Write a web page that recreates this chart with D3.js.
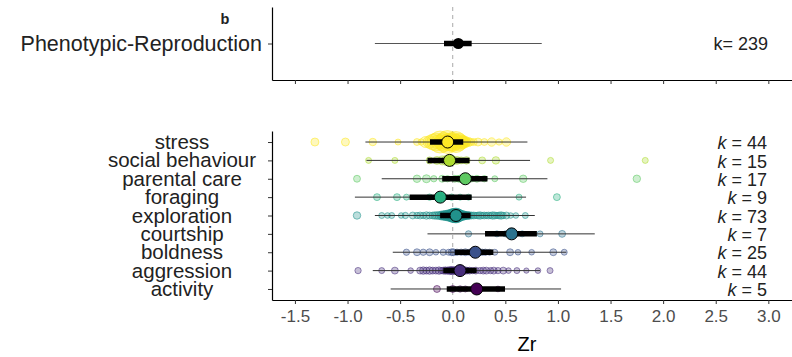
<!DOCTYPE html>
<html>
<head>
<meta charset="utf-8">
<script src="https://cdn.jsdelivr.net/npm/d3@7"></script>
<style>
  body { margin: 0; background: #fff; }
  svg { display: block; }
  text { font-family: "Liberation Sans", Arial, sans-serif; }
</style>
</head>
<body>
<svg id="chart" width="792" height="357"></svg>
<script>
// ---- overall model (top panel) ----
const overallLabel = ["Phenotypic-Reproduction"];
const overallK = 239;
const overallMean = 0.053;
const overallCI = [-0.083, 0.18];
const overallPI = [-0.74, 0.846];

// ---- moderator levels (bottom panel), listed bottom to top ----
const moderators = ["activity", "aggression", "boldness", "courtship", "exploration",
                    "foraging", "parental care", "social behaviour", "stress"];
const modK      = [5, 44, 25, 7, 73, 9, 17, 15, 44];
const modMean   = [0.228, 0.069, 0.215, 0.56, 0.031, -0.118, 0.12, -0.03, -0.048];
const modCILow  = [-0.057, -0.09, 0.02, 0.307, -0.12, -0.41, -0.10, -0.24, -0.216];
const modCIHigh = [0.497, 0.228, 0.386, 0.80, 0.17, 0.18, 0.33, 0.16, 0.10];
const modPILow  = [-0.59, -0.76, -0.57, -0.24, -0.74, -0.93, -0.675, -0.82, -0.83];
const modPIHigh = [1.03, 0.83, 1.08, 1.35, 0.78, 0.697, 0.90, 0.735, 0.71];

// individual effect sizes per level: [Zr, precision]
const esActivity = [[-0.15,12],[0.00,12],[0.07,10],[0.12,9],[0.43,8]];
const esAggression = [[-0.90,10],[-0.675,9],[-0.55,12],[-0.40,8],[-0.31,12],[-0.28,14],[-0.25,12],[-0.22,14],[-0.19,12],[-0.16,12],
  [-0.13,14],[-0.11,10],[-0.09,12],[-0.07,14],[-0.05,12],[-0.03,16],[-0.02,12],[-0.01,14],[0.00,16],[0.01,12],
  [0.02,14],[0.03,12],[0.04,16],[0.05,14],[0.06,12],[0.08,14],[0.10,12],[0.12,14],[0.14,10],[0.16,12],
  [0.19,10],[0.22,12],[0.26,10],[0.29,12],[0.32,12],[0.36,10],[0.39,12],[0.43,10],[0.48,12],[0.53,8],
  [0.61,9],[0.70,7],[0.81,8],[0.925,9]];
const esBoldness = [[-0.44,10],[-0.34,12],[-0.28,10],[-0.22,12],[-0.16,8],[-0.09,10],[-0.04,9],[-0.01,12],[0.006,12],[0.04,10],
  [0.08,10],[0.12,12],[0.16,10],[0.19,12],[0.22,14],[0.25,12],[0.28,10],[0.31,10],[0.35,9],[0.40,9],
  [0.545,12],[0.62,8],[0.75,8],[0.956,12],[1.06,9]];
const esCourtship = [[0.15,10],[0.42,9],[0.50,9],[0.58,12],[0.66,9],[0.83,9],[1.04,12]];
const esExploration = [[-0.91,14],[-0.675,9],[-0.62,8],[-0.58,9],[-0.49,8],[-0.45,10],[-0.38,12],[-0.34,10],[-0.31,12],[-0.28,10],
  [-0.25,14],[-0.22,12],[-0.19,12],[-0.17,14],[-0.15,14],[-0.13,16],[-0.11,18],[-0.10,20],[-0.09,16],[-0.08,22],
  [-0.07,25],[-0.06,20],[-0.05,28],[-0.04,30],[-0.03,25],[-0.02,35],[-0.02,30],[-0.01,40],[0.00,45],[0.00,36],
  [0.01,50],[0.01,40],[0.02,45],[0.02,36],[0.03,55],[0.03,40],[0.04,48],[0.04,35],[0.05,40],[0.05,30],
  [0.06,36],[0.06,28],[0.07,30],[0.07,24],[0.08,25],[0.09,20],[0.10,22],[0.11,18],[0.12,16],[0.13,14],
  [0.14,16],[0.15,12],[0.16,14],[0.18,12],[0.20,12],[0.22,10],[0.24,12],[0.26,14],[0.28,10],[0.30,12],
  [0.32,10],[0.34,12],[0.36,10],[0.38,14],[0.40,12],[0.42,10],[0.44,12],[0.46,14],[0.48,10],[0.51,12],
  [0.55,8],[0.60,8],[0.69,9]];
const esForaging = [[-0.72,12],[-0.53,12],[-0.44,9],[-0.22,10],[-0.01,10],[0.07,9],[0.15,9],[0.63,9],[0.99,12]];
const esParental = [[-0.91,12],[-0.34,14],[-0.25,16],[-0.18,10],[-0.10,12],[-0.05,10],[0.02,12],[0.05,10],[0.07,14],[0.10,12],
  [0.14,16],[0.18,10],[0.23,12],[0.30,10],[0.40,9],[0.67,14],[1.75,14]];
const esSocial = [[-0.80,9],[-0.55,9],[-0.22,12],[-0.15,16],[-0.10,20],[-0.06,25],[-0.03,30],[0.00,20],[0.04,16],[0.08,12],
  [0.13,14],[0.28,12],[0.41,14],[0.93,9],[1.83,9]];
const esStress = [[-1.31,16],[-1.02,16],[-0.76,14],[-0.52,9],[-0.34,12],[-0.30,10],[-0.26,30],[-0.22,40],[-0.19,60],[-0.16,80],
  [-0.14,50],[-0.12,120],[-0.10,70],[-0.09,40],[-0.08,90],[-0.07,30],[-0.06,60],[-0.05,130],[-0.04,45],[-0.03,80],
  [-0.02,35],[-0.01,70],[0.00,90],[0.01,40],[0.02,60],[0.03,110],[0.04,30],[0.05,55],[0.06,75],[0.07,25],
  [0.08,50],[0.09,35],[0.10,40],[0.11,20],[0.12,30],[0.13,16],[0.15,20],[0.17,14],[0.20,12],[0.24,16],
  [0.30,12],[0.37,18],[0.44,10],[0.51,18]];
const modEffects = [esActivity, esAggression, esBoldness, esCourtship, esExploration,
                    esForaging, esParental, esSocial, esStress];

const xTicks = [-1.5, -1.0, -0.5, 0.0, 0.5, 1.0, 1.5, 2.0, 2.5, 3.0];

// ---- layout ----
const svg = d3.select("#chart");
const x = d3.scaleLinear().domain([-1.718, 3.225]).range([272, 792]);
const yTop = d3.scalePoint().domain(overallLabel).range([80, 7]).padding(0.6);
const yBot = d3.scalePoint().domain(moderators).range([300, 131]).padding(0.6);
const r = d3.scaleSqrt().domain([0, 100]).range([0, 10]);
const colours = d3.quantize(d3.interpolateViridis, moderators.length);
const colour = d3.scaleOrdinal().domain(moderators).range(colours);

const rows = moderators.map((m, i) => ({
  name: m, k: modK[i], mean: modMean[i],
  ci: [modCILow[i], modCIHigh[i]], pi: [modPILow[i], modPIHigh[i]],
  es: modEffects[i]
}));

// zero reference lines
function zeroLine(y0, y1) {
  svg.append("line")
    .attr("x1", x(0)).attr("x2", x(0))
    .attr("y1", y0).attr("y2", y1)
    .attr("stroke", "#aaaaaa").attr("stroke-width", 1)
    .attr("stroke-dasharray", "4,4");
}
zeroLine(7, 80);
zeroLine(131, 300);

// ---- top panel: overall estimate ----
const topPanel = svg.append("g");
const yo = yTop(overallLabel[0]);
topPanel.append("line")
  .attr("x1", x(overallPI[0])).attr("x2", x(overallPI[1]))
  .attr("y1", yo).attr("y2", yo)
  .attr("stroke", "#555").attr("stroke-width", 1.2);
topPanel.append("line")
  .attr("x1", x(overallCI[0])).attr("x2", x(overallCI[1]))
  .attr("y1", yo).attr("y2", yo)
  .attr("stroke", "#000").attr("stroke-width", 5.5);
topPanel.append("circle")
  .attr("cx", x(overallMean)).attr("cy", yo).attr("r", 5.5)
  .attr("fill", "#000");
topPanel.append("text")
  .attr("x", 768).attr("y", yo).attr("dy", "0.36em")
  .attr("text-anchor", "end").attr("font-size", 18).attr("fill", "#222")
  .text("k= " + overallK);

// ---- bottom panel: moderator levels ----
const botPanel = svg.append("g");
rows.forEach(row => {
  const yy = yBot(row.name);
  const c = colour(row.name);
  botPanel.append("g").selectAll("circle")
    .data(row.es)
    .join("circle")
    .attr("cx", d => x(d[0]))
    .attr("cy", yy)
    .attr("r", d => r(d[1]))
    .attr("fill", c).attr("fill-opacity", 0.3)
    .attr("stroke", c).attr("stroke-opacity", 0.55).attr("stroke-width", 1);
});
rows.forEach(row => {
  const yy = yBot(row.name);
  botPanel.append("line")
    .attr("x1", x(row.pi[0])).attr("x2", x(row.pi[1]))
    .attr("y1", yy).attr("y2", yy)
    .attr("stroke", "#333").attr("stroke-width", 1);
  botPanel.append("line")
    .attr("x1", x(row.ci[0])).attr("x2", x(row.ci[1]))
    .attr("y1", yy).attr("y2", yy)
    .attr("stroke", "#000").attr("stroke-width", 5.5);
  botPanel.append("circle")
    .attr("cx", x(row.mean)).attr("cy", yy).attr("r", 6)
    .attr("fill", colour(row.name))
    .attr("stroke", "#000").attr("stroke-width", 1);
  const t = botPanel.append("text")
    .attr("x", 767).attr("y", yy).attr("dy", "0.4em")
    .attr("text-anchor", "end").attr("font-size", 18).attr("fill", "#222");
  t.append("tspan").attr("font-style", "italic").text("k");
  t.append("tspan").text(" = " + row.k);
});

// ---- axes ----
function styleAxis(g) {
  g.select(".domain").attr("stroke", "#000").attr("stroke-width", 1.2);
  g.selectAll(".tick line").attr("stroke", "#333").attr("stroke-width", 1);
}
svg.append("g")
  .attr("transform", "translate(0,80)")
  .call(d3.axisBottom(x).tickValues(xTicks).tickSize(4).tickSizeOuter(0).tickFormat(""))
  .call(styleAxis);
svg.append("g")
  .attr("transform", "translate(0,300)")
  .call(d3.axisBottom(x).tickValues(xTicks).tickSize(4).tickSizeOuter(0)
        .tickPadding(6).tickFormat(d => d.toFixed(1)))
  .call(styleAxis)
  .call(g => g.selectAll(".tick text")
    .attr("font-size", 17).attr("fill", "#4d4d4d")
    .attr("font-family", "'Liberation Sans', Arial, sans-serif"));

svg.append("g")
  .attr("transform", "translate(272,0)")
  .call(d3.axisLeft(yTop).tickSize(4).tickSizeOuter(0).tickPadding(6))
  .call(styleAxis)
  .call(g => g.selectAll(".tick text")
    .attr("font-size", 21.5).attr("fill", "#222")
    .attr("font-family", "'Liberation Sans', Arial, sans-serif"));
svg.append("g")
  .attr("transform", "translate(272,0)")
  .call(d3.axisLeft(yBot).tickSize(4).tickSizeOuter(0))
  .call(styleAxis)
  .call(g => g.selectAll(".tick text")
    .attr("x", -90).attr("text-anchor", "middle")
    .attr("font-size", 20.5).attr("fill", "#222")
    .attr("font-family", "'Liberation Sans', Arial, sans-serif"));

// titles
svg.append("text")
  .attr("x", 527).attr("y", 351)
  .attr("text-anchor", "middle").attr("font-size", 20).attr("fill", "#000")
  .text("Zr");
svg.append("text")
  .attr("x", 225).attr("y", 24)
  .attr("text-anchor", "middle").attr("font-size", 14.5).attr("font-weight", "bold").attr("fill", "#222")
  .text("b");
</script>
</body>
</html>
